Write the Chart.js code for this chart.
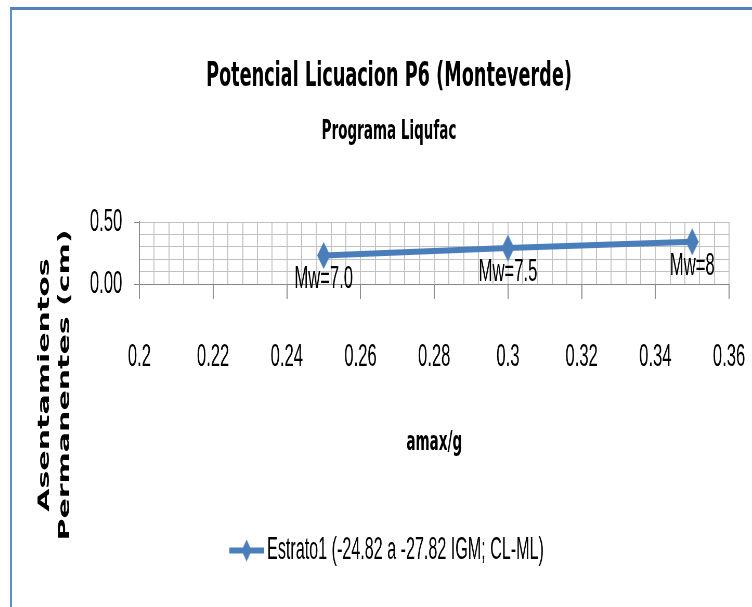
<!DOCTYPE html>
<html>
<head>
<meta charset="utf-8">
<script src="https://cdn.jsdelivr.net/npm/chart.js@4.4.1/dist/chart.umd.min.js"></script>
<style>
  html, body { margin: 0; padding: 0; background: #fff; overflow: hidden; }
  #frame { position: absolute; left: 10px; top: 7px; width: 800px; height: 640px;
           border-top: 3px solid #4f81bd; border-left: 2px solid #5b8fd0; }
  #chart { position: absolute; left: 12px; top: 10px; transform-origin: 0 0; }
</style>
</head>
<body>
<div id="frame"></div>
<canvas id="chart"></canvas>
<script>
// Datos
const xValues = [0.25, 0.3, 0.35];
const yValues = [0.23, 0.29, 0.34];
const pointLabels = ["Mw=7.0", "Mw=7.5", "Mw=8"];
const seriesName = "Estrato1 (-24.82 a -27.82 IGM; CL-ML)";

const xTickLabels = ["0.2", "0.22", "0.24", "0.26", "0.28", "0.3", "0.32", "0.34", "0.36"];
const yTickLabels = ["0.00", "0.50"];

const titleText = "Potencial Licuacion P6 (Monteverde)";
const subtitleText = "Programa Liqufac";
const xTitle = "amax/g";
const yTitle = ["Asentamientos", "Permanentes (cm)"];

const X_MIN = 0.2, X_MAX = 0.36, X_MAJOR = 0.02, X_MINOR = 0.004;
const Y_MIN = 0, Y_MAX = 0.5, Y_MAJOR = 0.5, Y_MINOR = 0.1;

// el original esta comprimido en horizontal
const SQ = 0.52;
const BLUE = "#4a7ebb";
const SANS = '"Liberation Sans", Arial, sans-serif';
const BOLD = '"DejaVu Sans", sans-serif';

const canvas = document.getElementById("chart");
canvas.width = Math.round(754 / SQ);
canvas.height = 597;
canvas.style.transform = `scaleX(${SQ})`;

// rombo (y linea para la leyenda)
function diamond(w, h, lineLen) {
  const c = document.createElement("canvas");
  c.width = lineLen || w;
  c.height = h;
  const g = c.getContext("2d");
  g.fillStyle = BLUE;
  g.strokeStyle = BLUE;
  if (lineLen) {
    g.lineWidth = 6;
    g.beginPath(); g.moveTo(0, h / 2); g.lineTo(lineLen, h / 2); g.stroke();
  }
  const cx = c.width / 2;
  g.beginPath();
  g.moveTo(cx, 0); g.lineTo(cx + w / 2, h / 2); g.lineTo(cx, h); g.lineTo(cx - w / 2, h / 2);
  g.closePath(); g.fill();
  return c;
}
const markerImg = diamond(25, 27);
const legendImg = diamond(19, 22, 67);

function isMajor(v, min, step) {
  const k = (v - min) / step;
  return Math.abs(k - Math.round(k)) < 1e-6;
}

// titulo del eje Y (centrado en el grafico, no en el eje)
const yTitlePlugin = {
  id: "yTitle",
  afterDraw(chart) {
    const ctx = chart.ctx;
    ctx.save();
    ctx.font = "bold 30px " + BOLD;
    ctx.fillStyle = "#000";
    ctx.textAlign = "center";
    ctx.textBaseline = "middle";
    ctx.translate(63, 375);
    ctx.rotate(-Math.PI / 2);
    yTitle.forEach((t, i) => ctx.fillText(t, 0, i * 39));
    ctx.restore();
  }
};

// etiquetas Mw debajo de cada punto
const pointLabelPlugin = {
  id: "pointLabels",
  afterDatasetsDraw(chart) {
    const ctx = chart.ctx;
    ctx.save();
    ctx.font = "32px " + SANS;
    ctx.fillStyle = "#000";
    ctx.textAlign = "center";
    ctx.textBaseline = "middle";
    chart.getDatasetMeta(0).data.forEach((pt, i) => {
      ctx.fillText(pointLabels[i], pt.x, pt.y + 24);
    });
    ctx.restore();
  }
};

new Chart(canvas, {
  type: "line",
  data: {
    datasets: [{
      label: seriesName,
      data: xValues.map((x, i) => ({ x: x, y: yValues[i] })),
      borderColor: BLUE,
      backgroundColor: BLUE,
      borderWidth: 6,
      pointStyle: markerImg,
      pointRadius: 10,
      tension: 0
    }]
  },
  options: {
    responsive: false,
    animation: false,
    devicePixelRatio: 1,
    // padding simetrico para que titulo y leyenda queden centrados
    layout: { padding: { top: 0, left: 71, right: 71, bottom: 31 } },
    plugins: {
      title: {
        display: true, text: titleText, color: "#000",
        font: { family: BOLD, size: 34, weight: "bold" },
        padding: { top: 47, bottom: 0 }
      },
      subtitle: {
        display: true, text: subtitleText, color: "#000",
        font: { family: BOLD, size: 26, weight: "bold" },
        padding: { top: 19, bottom: 74 }
      },
      legend: {
        position: "bottom",
        labels: {
          usePointStyle: true,
          pointStyleWidth: 48,
          padding: 10,
          color: "#000",
          font: { family: SANS, size: 31 },
          generateLabels: () => [{
            text: seriesName, pointStyle: legendImg, fillStyle: BLUE,
            strokeStyle: BLUE, lineWidth: 0, hidden: false, datasetIndex: 0, fontColor: "#000"
          }]
        }
      },
      tooltip: { enabled: false }
    },
    scales: {
      x: {
        type: "linear",
        min: X_MIN, max: X_MAX,
        afterFit: (s) => { s.height = 241; },
        border: { color: "#868686", width: 1 },
        grid: {
          color: "#c0c0c0", lineWidth: 1.9, tickLength: 15, tickWidth: 1.9,
          tickColor: (c) => isMajor(c.tick.value, X_MIN, X_MAJOR) ? "#868686" : "rgba(0,0,0,0)"
        },
        ticks: {
          stepSize: X_MINOR, autoSkip: false, maxRotation: 0, minRotation: 0,
          padding: 39, color: "#000",
          font: { family: SANS, size: 32 },
          callback: (v) => isMajor(v, X_MIN, X_MAJOR) ? xTickLabels[Math.round((v - X_MIN) / X_MAJOR)] : ""
        },
        title: {
          display: true, text: xTitle, color: "#000",
          font: { family: BOLD, size: 26, weight: "bold" },
          padding: { top: 0, bottom: 66 }
        }
      },
      y: {
        min: Y_MIN, max: Y_MAX,
        afterFit: (s) => { s.width = 174; },
        border: { color: "#868686", width: 1.9 },
        grid: {
          color: "#c0c0c0", lineWidth: 1, tickLength: 10,
          tickColor: (c) => isMajor(c.tick.value, Y_MIN, Y_MAJOR) ? "#868686" : "rgba(0,0,0,0)"
        },
        ticks: {
          stepSize: Y_MINOR, autoSkip: false, padding: 23, color: "#000",
          font: { family: SANS, size: 32 },
          callback: (v) => isMajor(v, Y_MIN, Y_MAJOR) ? yTickLabels[Math.round((v - Y_MIN) / Y_MAJOR)] : ""
        }
      }
    }
  },
  plugins: [yTitlePlugin, pointLabelPlugin]
});
</script>
</body>
</html>
